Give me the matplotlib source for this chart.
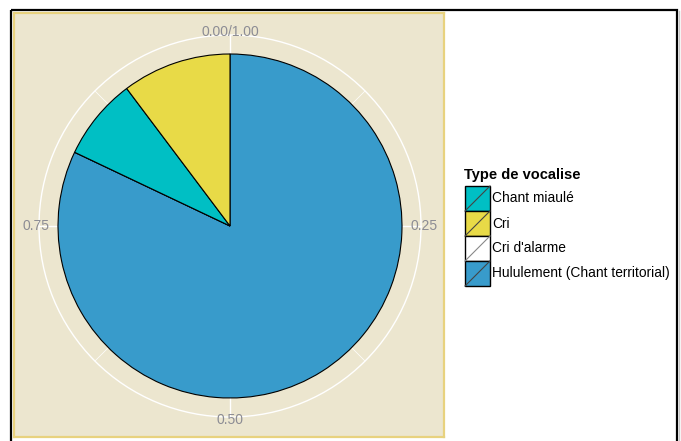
import matplotlib
matplotlib.use("Agg")
import matplotlib.pyplot as plt
from matplotlib.patches import Rectangle, Circle
import numpy as np

plt.rcParams['font.family'] = ['Liberation Sans', 'DejaVu Sans']

# ---- data ----
categories = ["Chant miaulé", "Cri", "Cri d'alarme", "Hululement (Chant territorial)"]
counts = [3, 4, 0, 32]
fill_colors = ["#00BFC4", "#E8DA47", "#FFFFFF", "#389BCB"]
theta_ticks = [0.0, 0.25, 0.5, 0.75]
theta_labels = ["0.00/1.00", "0.25", "0.50", "0.75"]
legend_title = "Type de vocalise"
# stacking order clockwise from the top
draw_order = [3, 2, 0, 1]

W, H = 681, 441
fig = plt.figure(figsize=(W / 100, H / 100), dpi=100)
fig.patch.set_facecolor("white")

# overlay axes in pixel coordinates (y down)
ov = fig.add_axes([0, 0, 1, 1])
ov.set_xlim(0, W)
ov.set_ylim(H, 0)
ov.axis("off")

# outer frame
ov.add_patch(Rectangle((11, 10), 666, 440, fill=False, edgecolor="black", lw=1.6, zorder=1))
ov.plot([678.5, 678.5], [11, 441], color="#c8c8c8", lw=1.0, zorder=1)

# panel axes
px0, px1, py0, py1 = 14, 444, 13, 437
pax = fig.add_axes([px0 / W, 1 - py1 / H, (px1 - px0) / W, (py1 - py0) / H])
pax.set_facecolor("#ECE6CF")
for s in pax.spines.values():
    s.set_edgecolor("#E8D27E")
    s.set_linewidth(1.6)
pax.set_aspect("equal")

cx, cy = 230, H - 226
r_pie = 172
r_grid = 191
r_lab = 194

# grid
pax.add_patch(Circle((cx, cy), r_grid, fill=False, edgecolor="white", lw=1.0, zorder=1))
for t in np.arange(0, 1, 0.125):
    ang = np.pi / 2 - 2 * np.pi * t
    major = abs(t * 4 - round(t * 4)) < 1e-9
    pax.plot([cx, cx + r_grid * np.cos(ang)], [cy, cy + r_grid * np.sin(ang)],
             color="white", lw=1.0 if major else 0.5, zorder=1)

# pie
vals = [counts[i] for i in draw_order]
cols = [fill_colors[i] for i in draw_order]
wedges, _ = pax.pie(vals, colors=cols, startangle=90, counterclock=False,
                    radius=r_pie, center=(cx, cy), frame=True,
                    wedgeprops=dict(edgecolor="black", linewidth=0.8))
for w in wedges:
    w.set_zorder(2)
pax.set_xlim(px0, px1)
pax.set_ylim(H - py1, H - py0)
pax.set_xticks([])
pax.set_yticks([])

# theta labels
for t, lab in zip(theta_ticks, theta_labels):
    ang = np.pi / 2 - 2 * np.pi * t
    pax.text(cx + r_lab * np.cos(ang), cy + r_lab * np.sin(ang), lab,
             ha="center", va="center", fontsize=10, color="#8C8C94", zorder=3)

# legend
ov.text(464, 175, legend_title, fontsize=10.5, fontweight="bold", ha="left", va="center", color="black")
ky0 = 186
kh = 25
kw = 25
kx = 465
for i, (lab, col) in enumerate(zip(categories, fill_colors)):
    y = ky0 + i * kh
    ov.add_patch(Rectangle((kx, y), kw, kh, facecolor=col, edgecolor="black", lw=1.0, zorder=3))
    ov.plot([kx, kx + kw], [y + kh, y], color="#444444" if col != "#FFFFFF" else "#888888", lw=0.8, zorder=4)
    ov.text(kx + kw + 2, y + kh / 2, lab, fontsize=9.9, ha="left", va="center", color="black")

fig.savefig("out.png", dpi=100)
